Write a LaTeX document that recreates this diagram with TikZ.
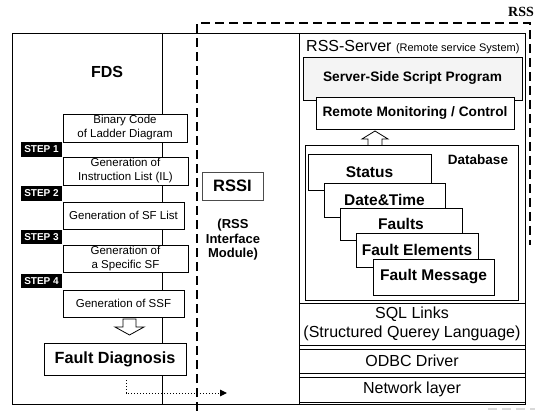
\documentclass[tikz,border=0pt]{standalone}
\usepackage{fontspec}
\setmainfont{Liberation Sans}
\newfontfamily\rsstitlefont{Liberation Serif}
\usetikzlibrary{arrows.meta}

\begin{document}
\begin{tikzpicture}[x=1pt,y=-1pt,
  box/.style={draw, fill=white, line width=0.8pt, inner sep=1pt},
  stepbox/.style={box, font=\fontsize{11.5}{14}\selectfont, align=center},
  steplabel/.style={fill=black, text=white, inner sep=0pt,
    minimum width=41pt, minimum height=14.5pt,
    font=\bfseries\fontsize{10}{11}\selectfont},
  card/.style={box, font=\bfseries\fontsize{15.5}{18}\selectfont},
  layer/.style={box, minimum width=226pt, font=\fontsize{16}{19}\selectfont, align=center},
  rssdash/.style={line width=2pt, dash pattern=on 9pt off 5pt},
  hollow/.style={draw, fill=white, line width=0.8pt, line join=miter},
]
\useasboundingbox (0,0) rectangle (535,411);

% ---------- frames ----------
\draw[line width=0.9pt] (12,33) rectangle (525,404);
\draw[line width=0.8pt] (162,33) -- (162,404);
\draw[line width=0.9pt] (299,33) -- (299,404);

% ---------- FDS side ----------
\node[font=\bfseries\fontsize{16}{18}\selectfont] (fds) at (107,72) {FDS};

\node[stepbox, minimum width=124pt, minimum height=28pt] (binary) at (125,128)
  {Binary Code\\of Ladder Diagram};
\node[stepbox, minimum width=125pt, minimum height=28pt] (il) at (125.5,171)
  {Generation of\\Instruction List (IL)};
\node[stepbox, minimum width=121pt, minimum height=27pt] (sflist) at (123.5,215.5)
  {Generation of SF List};
\node[stepbox, minimum width=125pt, minimum height=27pt] (specific) at (125.5,258.5)
  {Generation of\\a Specific SF};
\node[stepbox, minimum width=121pt, minimum height=27pt] (ssf) at (123.5,303.5)
  {Generation of SSF};

\node[steplabel] (s1) at (41.5,149.5) {STEP 1};
\node[steplabel] (s2) at (41.5,193.5) {STEP 2};
\node[steplabel] (s3) at (41.5,237) {STEP 3};
\node[steplabel] (s4) at (41.5,281) {STEP 4};

% hollow arrow towards the diagnosis
\draw[hollow] (123,319) -- (136,319) -- (136,327) -- (144,327) -- (129.5,335)
  -- (115,327) -- (123,327) -- cycle;

\node[box, minimum width=142pt, minimum height=32pt,
  font=\bfseries\fontsize{16.2}{18}\selectfont] (fdiag) at (115,359) {Fault Diagnosis};

% ---------- RSS interface ----------
\node[box, draw=black!70, minimum width=61pt, minimum height=28pt,
  font=\bfseries\fontsize{16.5}{18}\selectfont] (rssi) at (232.5,186) {RSSI};
\node[align=center, font=\bfseries\fontsize{13}{14.5}\selectfont] (rssimod) at (233,240)
  {(RSS\\Interface\\Module)};

\coordinate (rsslink) at (227,393);
\draw[dotted, line width=1pt, -{Triangle[length=7pt,width=6.5pt]}]
  ([xshift=11pt,yshift=-5pt]fdiag.south) |- (rsslink);

% ---------- RSS server ----------
\node[anchor=base west, inner sep=0pt] (server) at (306,52)
  {\fontsize{16}{18}\selectfont RSS-Server
   \fontsize{11}{13}\selectfont(Remote service System)};

\node[box, fill=gray!9, minimum width=219pt, minimum height=43pt,
  font=\bfseries\fontsize{13.7}{16}\selectfont] (ssp) at (412.5,78.5)
  {\raisebox{4pt}{Server-Side Script Program}};
\node[box, minimum width=198pt, minimum height=32pt,
  font=\bfseries\fontsize{13.7}{16}\selectfont] (rmc) at (415,113)
  {Remote Monitoring / Control};

\draw[hollow] (368,146) -- (368,139) -- (362,139) -- (375,131) -- (388,139)
  -- (382,139) -- (382,146);

\node[box, minimum width=213pt, minimum height=155pt] (db) at (411.5,222.5) {};
\node[font=\bfseries\fontsize{13.5}{16}\selectfont] (dblabel) at (478,160) {Database};

\node[card, minimum width=123pt, minimum height=36pt] (status) at (369.5,172) {Status};
\node[card, minimum width=121pt, minimum height=34pt] (datetime) at (384.5,200) {Date\&Time};
\node[card, minimum width=122pt, minimum height=32pt] (faults) at (401,224) {Faults};
\node[card, minimum width=122pt, minimum height=34pt] (felements) at (417,250) {Fault Elements};
\node[card, minimum width=121pt, minimum height=36pt] (fmessage) at (433.5,277) {Fault Message};

\node[layer, minimum height=42pt] (sql) at (412,324)
  {SQL Links\\(Structured Querey Language)};
\node[layer, minimum height=24pt] (odbc) at (412,361) {ODBC Driver};
\node[layer, minimum height=25pt] (net) at (412,389.5) {Network layer};

% ---------- RSS boundary ----------
\draw[rssdash] (197,411) -- (197,23) -- (530,23) -- (530,245);
\draw[rssdash, gray!30] (488,409) -- (535,409);
\node[font=\rsstitlefont\bfseries\fontsize{14}{16}\selectfont] (rss) at (521,12) {RSS};

\end{tikzpicture}
\end{document}
